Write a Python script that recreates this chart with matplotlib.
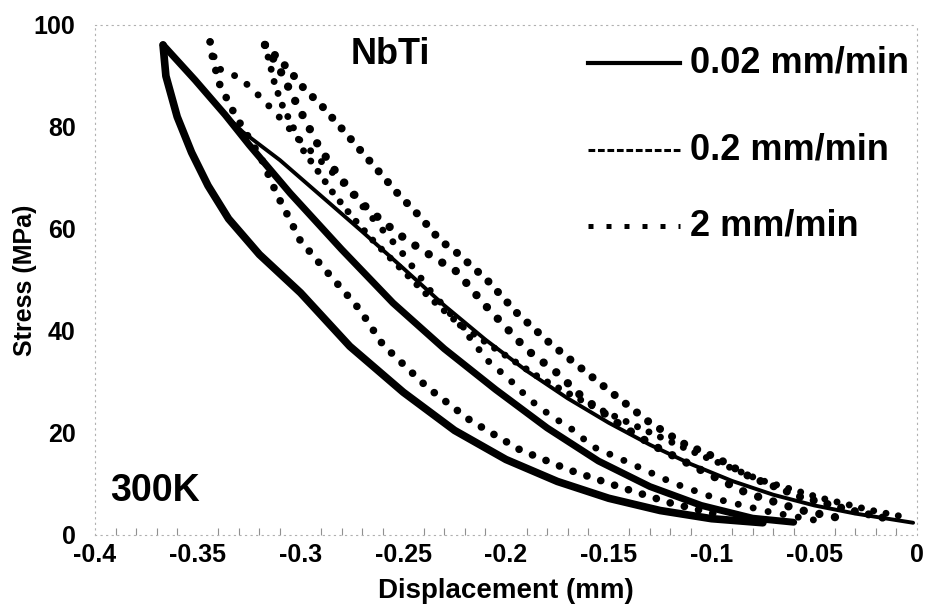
import matplotlib
matplotlib.use('Agg')
import matplotlib.pyplot as plt

plt.rcParams['font.family'] = ['Liberation Sans', 'DejaVu Sans']
plt.rcParams['font.weight'] = 'bold'

# 0.02 mm/min loops (solid)
s1_x = [-0.3669, -0.3655, -0.3600, -0.3530, -0.3450, -0.3350, -0.3200, -0.3000, -0.2760,
        -0.2500, -0.2250, -0.2000, -0.1750, -0.1500, -0.1250, -0.1000, -0.0750]
s1_y = [96.1, 90.0, 82.0, 75.0, 68.5, 62.0, 55.0, 47.5, 37.0, 28.0, 20.5, 14.8, 10.5, 7.2,
        4.8, 3.2, 2.4]

s2_x = [-0.3669, -0.3513, -0.3367, -0.3250, -0.3050, -0.2800, -0.2550, -0.2300, -0.2050,
        -0.1800, -0.1550, -0.1300, -0.1050, -0.0800, -0.0600]
s2_y = [96.1, 89.2, 82.4, 76.5, 67.0, 56.0, 45.5, 36.5, 28.5, 21.0, 14.5, 9.5, 5.8, 3.3, 2.5]

s3_x = [-0.3669, -0.3513, -0.3367, -0.3280, -0.3100, -0.2900, -0.2700, -0.2500, -0.2300,
        -0.2100, -0.1900, -0.1700, -0.1500, -0.1300, -0.1100, -0.0900, -0.0700, -0.0500,
        -0.0300, -0.0019]
s3_y = [96.1, 89.2, 82.4, 79.0, 73.5, 66.5, 59.5, 52.3, 45.0, 38.3, 32.2, 26.8, 22.0, 17.7,
        13.9, 10.6, 7.9, 5.8, 4.2, 2.4]

# 0.2 mm/min loop
d1a_x = [-0.3440, -0.3426, -0.3392, -0.3319, -0.3246, -0.3187, -0.3114, -0.3051, -0.3002,
         -0.2891, -0.2793, -0.2710, -0.2599, -0.2384, -0.2175, -0.1932, -0.1689, -0.1445,
         -0.1202, -0.0959]
d1a_y = [96.7, 93.1, 88.2, 82.4, 77.5, 73.5, 66.7, 61.8, 57.8, 52.5, 48.0, 44.1, 37.3, 29.0,
         22.5, 16.7, 12.7, 9.4, 6.3, 3.9]

d1b_x = [-0.3440, -0.3406, -0.3294, -0.3221, -0.3124, -0.3027, -0.2905, -0.2783, -0.2662,
         -0.2516, -0.2370, -0.2224, -0.2092, -0.1981, -0.1883, -0.1786, -0.1674, -0.1577,
         -0.1397, -0.1187, -0.0959, -0.0715, -0.0496]
d1b_y = [96.7, 91.6, 89.6, 86.9, 82.9, 78.4, 73.5, 68.6, 62.7, 55.9, 48.0, 41.2, 34.3, 30.4,
         26.5, 23.5, 20.6, 17.3, 14.1, 10.2, 6.9, 4.5, 2.9]

# 2 mm/min loops
d2_x = [-0.3173, -0.3148, -0.3124, -0.3085, -0.3036, -0.2988, -0.2920, -0.2842, -0.2745,
        -0.2637, -0.2516, -0.2370, -0.2224, -0.2029, -0.1835, -0.1591, -0.1348, -0.1056,
        -0.0764, -0.0472, -0.0229, -0.0034]
d2_y = [96.1, 92.2, 88.2, 83.9, 80.0, 75.5, 71.6, 67.1, 62.2, 57.3, 52.4, 46.5, 41.2, 35.9,
        30.8, 25.5, 21.0, 15.7, 10.8, 7.3, 4.9, 3.3]

d4_x = [-0.3173, -0.3100, -0.3041, -0.2978, -0.2915, -0.2842, -0.2759, -0.2676, -0.2579,
        -0.2482, -0.2370, -0.2238, -0.2112, -0.1898, -0.1752, -0.1625, -0.1445, -0.1285,
        -0.1007, -0.0827, -0.0569, -0.0326]
d4_y = [96.1, 91.2, 86.3, 81.4, 76.5, 72.0, 67.6, 64.1, 60.8, 57.8, 54.9, 51.6, 45.5, 36.3,
        31.8, 26.9, 21.6, 17.6, 11.8, 8.2, 4.9, 2.9]

d3_x = [-0.3173, -0.3085, -0.3036, -0.2988, -0.2891, -0.2793, -0.2710, -0.2613, -0.2530,
        -0.2418, -0.2321, -0.2238, -0.2092, -0.1946, -0.1786, -0.1625, -0.1460, -0.1299,
        -0.1139, -0.0973, -0.0813, -0.0569, -0.0326, -0.0156]
d3_y = [96.1, 92.5, 90.2, 87.8, 83.9, 79.4, 75.5, 71.0, 67.1, 62.4, 57.8, 55.3, 50.0, 43.5,
        37.6, 32.4, 27.1, 22.0, 18.0, 15.1, 11.4, 7.5, 4.9, 3.3]

xticks = [-0.4, -0.35, -0.3, -0.25, -0.2, -0.15, -0.1, -0.05, 0]
xlabels = ['-0.4', '-0.35', '-0.3', '-0.25', '-0.2', '-0.15', '-0.1', '-0.05', '0']
yticks = [0, 20, 40, 60, 80, 100]
rates = ['0.02 mm/min', '0.2 mm/min', '2 mm/min']

fig = plt.figure(figsize=(9.27, 6.12), dpi=100)
ax = fig.add_axes([95 / 927, 77 / 612, 822 / 927, 510 / 612])

# solid loops
rnd = dict(color='black', solid_capstyle='round', solid_joinstyle='round')
ax.plot(s1_x, s1_y, lw=5.5, **rnd)
ax.plot(s2_x, s2_y, lw=5.0, **rnd)
ax.plot(s3_x, s3_y, lw=2.8, **rnd)

# dotted loops
dots = dict(color='black', dash_capstyle='round')
ax.plot(d1a_x, d1a_y, lw=5.5, ls=(0, (0.01, 1.9)), **dots)
ax.plot(d1b_x, d1b_y, lw=5.0, ls=(0, (0.01, 2.2)), **dots)
ax.plot(d2_x, d2_y, lw=5.0, ls=(0, (0.01, 1.8)), **dots)
ax.plot(d4_x, d4_y, lw=6.0, ls=(0, (0.01, 1.9)), **dots)
ax.plot(d3_x, d3_y, lw=5.8, ls=(0, (0.01, 1.75)), **dots)

ax.set_xlim(-0.4, 0)
ax.set_ylim(0, 100)
ax.set_xticks(xticks)
ax.set_xticklabels(xlabels)
ax.set_xticks([-0.4 + 0.01 * i for i in range(41)], minor=True)
ax.set_yticks(yticks)
ax.tick_params(axis='x', which='major', labelsize=18, length=0, pad=6)
ax.tick_params(axis='x', which='minor', direction='in', length=5, width=0.8,
               color='#909090')
ax.tick_params(axis='y', labelsize=18, length=0, pad=14)
for sp in ax.spines.values():
    sp.set_color('#b0b0b0')
    sp.set_linestyle((0, (1, 4)))
    sp.set_linewidth(0.8)

ax.set_xlabel('Displacement (mm)', fontsize=20, fontweight='bold', labelpad=8)
ax.set_ylabel('Stress (MPa)', fontsize=18, fontweight='bold')
ax.yaxis.set_label_coords(-0.085, 0.5)
ax.yaxis.label.set_va('center')

ax.text(-0.2565, 94.3, 'NbTi', fontsize=26, fontweight='bold', ha='center', va='center')
ax.text(-0.371, 8.6, '300K', fontsize=27, fontweight='bold', ha='center', va='center')

# legend drawn by hand
leg_y = [0.9255, 0.755, 0.606]
styles = [dict(ls='-', lw=3.0),
          dict(ls=(0, (2.2, 0.9)), lw=2.2),
          dict(ls=(0, (1.0, 2.6)), lw=3.6)]
for yy, lab, st in zip(leg_y, rates, styles):
    ax.plot([0.600, 0.712], [yy, yy], transform=ax.transAxes, color='black', **st)
    ax.text(0.724, yy, lab, transform=ax.transAxes, fontsize=26, fontweight='bold',
            ha='left', va='center')

fig.savefig('out.png', dpi=100)
